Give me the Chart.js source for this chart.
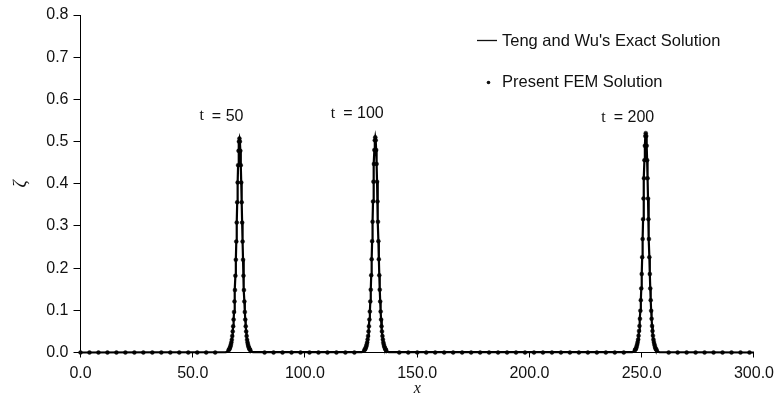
<!DOCTYPE html>
<html lang="en">
<head>
    <meta charset="UTF-8">
    <title>Soliton propagation</title>
    <style>
        body { margin: 0; background: #fff; }
        canvas { display: block; }
    </style>
</head>
<body>
    <canvas id="solChart" width="780" height="401"></canvas>
    <script src="https://cdn.jsdelivr.net/npm/chart.js"></script>
    <script>
        // x offsets from each crest (x units)
        const offsets = [-6.0, -5.4, -4.8, -4.6, -4.4, -4.2, -4.0, -3.8, -3.6, -3.4, -3.2, -3.0, -2.8, -2.6, -2.4, -2.2, -2.0, -1.8, -1.6, -1.4, -1.2, -1.0, -0.8, -0.6, -0.4, -0.2,
            0.0, 0.2, 0.4, 0.6, 0.8, 1.0, 1.2, 1.4, 1.6, 1.8, 2.0, 2.2, 2.4, 2.6, 2.8, 3.0, 3.2, 3.4, 3.6, 3.8, 4.0, 4.2, 4.4, 4.6, 4.8, 5.4, 6.0];
        // crest positions
        const crests = [70.8, 131.3, 251.8];
        const crestLabels = ['50', '100', '200'];
        const labelHeights = [0.560, 0.567, 0.557];
        // wave heights around each crest
        const zeta50 = [0.001, 0.003, 0.006, 0.007, 0.009, 0.012, 0.015, 0.019, 0.024, 0.030, 0.039, 0.050, 0.062, 0.078, 0.096, 0.121, 0.148, 0.182, 0.220, 0.263, 0.308, 0.356, 0.403, 0.444, 0.478, 0.500,
            0.507, 0.500, 0.478, 0.444, 0.403, 0.356, 0.308, 0.263, 0.220, 0.182, 0.148, 0.121, 0.096, 0.078, 0.062, 0.050, 0.039, 0.030, 0.024, 0.019, 0.015, 0.012, 0.009, 0.007, 0.006, 0.003, 0.001];
        const zeta100 = [0.001, 0.003, 0.006, 0.007, 0.009, 0.012, 0.015, 0.019, 0.024, 0.031, 0.039, 0.050, 0.062, 0.078, 0.097, 0.121, 0.149, 0.183, 0.221, 0.264, 0.310, 0.358, 0.405, 0.447, 0.480, 0.503,
            0.510, 0.503, 0.480, 0.447, 0.405, 0.358, 0.310, 0.264, 0.221, 0.183, 0.149, 0.121, 0.097, 0.078, 0.062, 0.050, 0.039, 0.031, 0.024, 0.019, 0.015, 0.012, 0.009, 0.007, 0.006, 0.003, 0.001];
        const zeta200 = [0.001, 0.003, 0.006, 0.007, 0.009, 0.012, 0.016, 0.020, 0.025, 0.031, 0.040, 0.051, 0.063, 0.080, 0.099, 0.124, 0.152, 0.186, 0.226, 0.269, 0.316, 0.365, 0.413, 0.456, 0.490, 0.513,
            0.520, 0.513, 0.490, 0.456, 0.413, 0.365, 0.316, 0.269, 0.226, 0.186, 0.152, 0.124, 0.099, 0.080, 0.063, 0.051, 0.040, 0.031, 0.025, 0.020, 0.016, 0.012, 0.009, 0.007, 0.006, 0.003, 0.001];
        // FEM nodes shown on the flat water between the waves
        const flatNodes = [0, 4, 8, 12, 16, 20, 24, 28, 32, 36, 40, 44, 48, 52, 56, 60, 82, 86, 90, 94, 98, 102, 106, 110, 114, 118, 122,
            142, 146, 150, 154, 158, 162, 166, 170, 174, 178, 182, 186, 190, 194, 198, 202, 206, 210, 214, 218, 222, 226, 230, 234, 238, 242,
            262, 266, 270, 274, 278, 282, 286, 290, 294, 298];
        const xTicks = [0, 50, 100, 150, 200, 250, 300];
        const yTicks = [0, 0.1, 0.2, 0.3, 0.4, 0.5, 0.6, 0.7, 0.8];

        const waves = [zeta50, zeta100, zeta200];
        function crestPoints(i) {
            return offsets.map((d, j) => ({ x: crests[i] + d, y: waves[i][j] }));
        }
        const exactData = [{ x: 0, y: 0 }];
        const femData = flatNodes.map(x => ({ x: x, y: 0 }));
        for (let i = 0; i < crests.length; i++) {
            exactData.push(...crestPoints(i));
            femData.push(...crestPoints(i).slice(2, -2));
        }
        exactData.push({ x: 300, y: 0 });
        femData.sort((a, b) => a.x - b.x);

        const sans = '"Liberation Sans", Arial, sans-serif';
        const serif = '"Liberation Serif", "Times New Roman", serif';

        // legend and crest labels drawn inside the plot
        const notes = {
            id: 'notes',
            afterDraw(chart) {
                const ctx = chart.ctx;
                const xs = chart.scales.x, ys = chart.scales.y;
                ctx.save();
                ctx.fillStyle = '#111';
                ctx.strokeStyle = '#111';
                ctx.textBaseline = 'middle';
                ctx.textAlign = 'left';
                ctx.font = '16.5px ' + sans;
                ctx.lineWidth = 1.3;
                ctx.beginPath();
                ctx.moveTo(477, 40.5);
                ctx.lineTo(497, 40.5);
                ctx.stroke();
                ctx.fillText("Teng and Wu's Exact Solution", 502, 41);
                ctx.beginPath();
                ctx.arc(488.5, 82.5, 1.8, 0, Math.PI * 2);
                ctx.fill();
                ctx.fillText('Present FEM Solution', 502, 82);

                for (let i = 0; i < crests.length; i++) {
                    const cx = xs.getPixelForValue(crests[i]) - 18;
                    const cy = ys.getPixelForValue(labelHeights[i]);
                    const rest = '= ' + crestLabels[i];
                    ctx.font = '16px ' + serif;
                    const wt = ctx.measureText('t  ').width;
                    ctx.font = '16px ' + sans;
                    const wr = ctx.measureText(rest).width;
                    const left = cx - (wt + wr) / 2;
                    ctx.font = '16px ' + serif;
                    ctx.fillText('t', left, cy);
                    ctx.font = '16px ' + sans;
                    ctx.fillText(rest, left + wt, cy);
                }
                ctx.restore();
            }
        };

        const ctx = document.getElementById('solChart');
        new Chart(ctx, {
            type: 'scatter',
            data: {
                datasets: [{
                    label: "Teng and Wu's Exact Solution",
                    data: exactData,
                    showLine: true,
                    clip: false,
                    borderColor: '#000',
                    borderWidth: 2.2,
                    pointRadius: 0,
                    tension: 0
                }, {
                    label: 'Present FEM Solution',
                    data: femData,
                    showLine: false,
                    clip: false,
                    backgroundColor: '#111',
                    borderColor: 'rgba(0,0,0,0.5)',
                    borderWidth: 0.8,
                    pointRadius: 2
                }]
            },
            options: {
                responsive: false,
                animation: false,
                devicePixelRatio: 1,
                layout: { padding: { left: 0, right: 23.5, top: 15, bottom: 0 } },
                plugins: {
                    legend: { display: false },
                    tooltip: { enabled: false }
                },
                scales: {
                    x: {
                        type: 'linear',
                        min: 0,
                        max: 300,
                        afterBuildTicks: s => { s.ticks = xTicks.map(v => ({ value: v })); },
                        afterFit: s => { s.height = 48.5; },
                        border: { color: '#000', width: 1 },
                        grid: { drawOnChartArea: false, drawTicks: true, tickLength: 5, color: '#000' },
                        ticks: {
                            padding: 6,
                            color: '#111',
                            font: { family: sans, size: 16 },
                            maxRotation: 0,
                            callback: v => v.toFixed(1)
                        },
                        title: {
                            display: true,
                            text: 'x',
                            color: '#111',
                            font: { family: serif, size: 16, style: 'italic' },
                            padding: { top: 0, bottom: 3 }
                        }
                    },
                    y: {
                        min: 0,
                        max: 0.8,
                        afterBuildTicks: s => { s.ticks = yTicks.map(v => ({ value: v })); },
                        afterFit: s => { s.width = 80.5; },
                        border: { color: '#000', width: 1 },
                        grid: { drawOnChartArea: false, drawTicks: true, tickLength: 7, color: '#000' },
                        ticks: {
                            padding: 5,
                            color: '#111',
                            font: { family: sans, size: 16 },
                            callback: v => v.toFixed(1)
                        },
                        title: {
                            display: true,
                            text: 'ζ',
                            color: '#111',
                            font: { family: serif, size: 18, style: 'italic' },
                            padding: { top: 10, bottom: 0 }
                        }
                    }
                }
            },
            plugins: [notes]
        });
    </script>
</body>
</html>
